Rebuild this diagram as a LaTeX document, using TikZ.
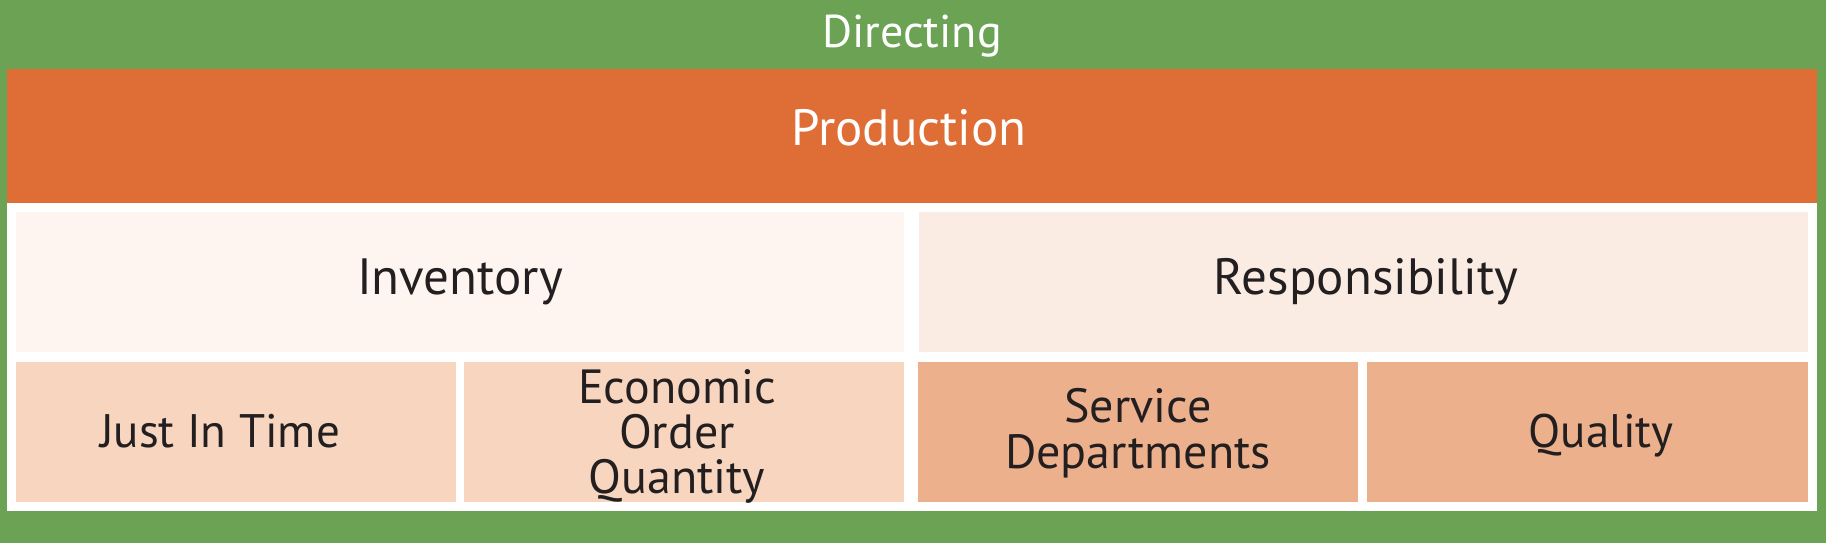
\documentclass[tikz,border=0pt]{standalone}
\usepackage{fontspec}
\setmainfont{PT Sans}
\definecolor{dirgreen}{HTML}{6BA253}
\definecolor{prodorange}{HTML}{DF6E36}
\definecolor{invfill}{HTML}{FEF5F0}
\definecolor{respfill}{HTML}{FAECE3}
\definecolor{leaflight}{HTML}{F7D5BF}
\definecolor{leafdark}{HTML}{EDB08C}
\definecolor{ink}{HTML}{231F20}
\tikzset{
  box/.style={fill=#1, draw=none},
  whitetxt/.style={anchor=base, text=white, inner sep=0pt},
  darktxt/.style={anchor=base, text=ink, inner sep=0pt, align=center, font=\fontsize{47}{46}\selectfont},
  headtxt/.style={anchor=base, text=ink, inner sep=0pt, font=\fontsize{51}{51}\selectfont},
}
\begin{document}
\begin{tikzpicture}[x=1pt,y=-1pt]
\useasboundingbox (0,0) rectangle (1826,543);
% outer green frame
\fill[box=dirgreen] (0,0) rectangle (1826,543);
\node[whitetxt, font=\fontsize{46}{46}\selectfont] (directing) at (912,48) {Directing};
% production band
\fill[box=prodorange] (7,69.5) rectangle (1817,203);
\node[whitetxt, font=\fontsize{51}{51}\selectfont] (production) at (909,145) {Production};
% white panel
\fill[box=white] (7,203) rectangle (1817,511);
% second level
\fill[box=invfill] (16,212) rectangle (904,352);
\node[headtxt] (inventory) at (460,294) {Inventory};
\fill[box=respfill] (919,212) rectangle (1808,352);
\node[headtxt] (responsibility) at (1366,294) {Responsibility};
% third level
\fill[box=leaflight] (16,362) rectangle (456,502);
\node[darktxt] (jit) at (220,447) {Just In Time};
\fill[box=leaflight] (464,362) rectangle (904,502);
\node[darktxt, anchor=north, font=\fontsize{48}{45}\selectfont] (eoq) at (677,369) {Economic\\Order\\Quantity};
\fill[box=leafdark] (918,362) rectangle (1358,502);
\node[darktxt, anchor=north, font=\fontsize{48}{46}\selectfont] (service) at (1138,388) {Service\\Departments};
\fill[box=leafdark] (1367,362) rectangle (1808,502);
\node[darktxt] (quality) at (1601,447) {Quality};
\end{tikzpicture}
\end{document}
